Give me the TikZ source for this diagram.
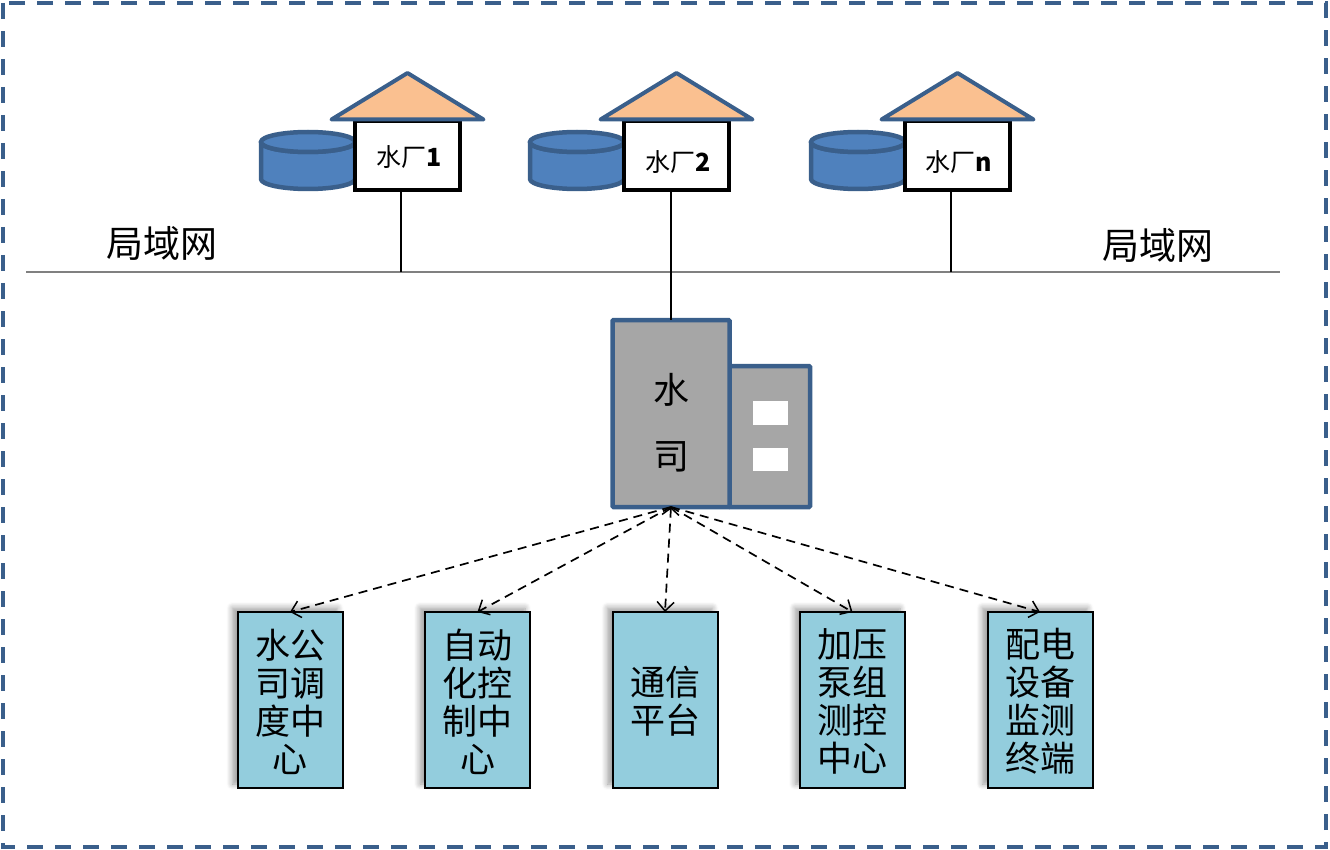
\documentclass[tikz,border=0pt]{standalone}
\usepackage{fontspec}
\setmainfont{Noto Sans CJK SC}
\usetikzlibrary{arrows.meta}
\usetikzlibrary{shadows.blur}
\definecolor{edgeblue}{HTML}{3A5F8B}
\definecolor{tankblue}{HTML}{4F81BD}
\definecolor{roofpeach}{HTML}{FAC090}
\definecolor{officegray}{HTML}{A6A6A6}
\definecolor{deptblue}{HTML}{93CDDD}
\tikzset{
	plantbox/.style={draw=black, line width=4, fill=white, minimum width=105, minimum height=69, inner sep=0, outer sep=0},
	plantlabel/.style={inner sep=0, font=\fontsize{25}{27}\selectfont},
	officebox/.style={draw=edgeblue, line width=4.5, fill=officegray, rounded corners=1, inner sep=0, outer sep=0},
	deptbox/.style={draw=black, line width=2, fill=deptblue, minimum width=105, minimum height=176, inner sep=0, outer sep=0, blur shadow={shadow xshift=-5pt, shadow yshift=4pt, shadow blur steps=8, shadow blur radius=6pt}},
	deptlabel/.style={inner sep=0, align=center, font=\fontsize{35}{38}\selectfont},
	lanlabel/.style={inner sep=0, font=\fontsize{37}{38}\selectfont},
	hub/.style={dash pattern=on 9pt off 6pt, line width=1.7, -{Straight Barb[length=9pt, width=17pt, line width=1.5pt]}},
	hubboth/.style={hub, {Straight Barb[length=7pt, width=17pt, line width=1.5pt]}-{Straight Barb[length=9pt, width=17pt, line width=1.5pt]}}
}
\newcommand{\plant}[5] % node name, x of box centre, x of tank centre, label, y of label
{
	% tank
	\draw[draw=edgeblue, line width=4.5, line join=round, fill=tankblue] (#3-47,142) arc[start angle=180, end angle=360, x radius=47pt, y radius=10pt] -- (#3+47,179) arc[start angle=360, end angle=180, x radius=47pt, y radius=10pt] -- cycle;
	\draw[draw=edgeblue, line width=4.5, fill=tankblue] (#3,142) ellipse [x radius=47pt, y radius=10pt];
	% box
	\node[plantbox] (#1) at (#2,155.5) {};
	\node[plantlabel] (#1text) at (#2+1.5,#5) {#4};
	% roof
	\draw[draw=edgeblue, line width=4, fill=roofpeach, line join=round] (#2-76,119.5) -- (#2,73) -- (#2+76,119.5) -- cycle;
}
\newcommand{\dept}[3] % node name, x of box centre, lines of text
{
	\node[deptbox] (#1) at (#2,700) {};
	\node[deptlabel] (#1text) at (#2,701.5) {#3};
}
\begin{document}
\begin{tikzpicture}[x=1pt, y=-1pt]
	\useasboundingbox (0,0) rectangle (1330,850);
	% outer frame
	\draw[draw=edgeblue, line width=4.5, dash pattern=on 16pt off 12pt] (3,3) rectangle (1326,847);

	% lan
	\coordinate (lanwest) at (26,272);
	\coordinate (laneast) at (1280,272);
	\coordinate (lan1) at (401,272);
	\coordinate (lan3) at (951,272);
	\draw[draw=gray, line width=1.8] (lanwest) -- (laneast);
	\node[lanlabel] (lanleft) at (162,243) {局域网};
	\node[lanlabel] (lanright) at (1158,245) {局域网};

	\plant{plant1}{407.5}{308}{水厂{\bfseries 1}}{157};
	\plant{plant2}{676.5}{577}{水厂{\bfseries 2}}{162};
	\plant{plant3}{957.5}{858}{水厂{\bfseries n}}{162};

	% office
	\node[officebox, minimum width=81, minimum height=141] (annex) at (769.5,436.5) {};
	\node[officebox, minimum width=117, minimum height=187] (office) at (671,413.5) {};
	\node[inner sep=0, align=center, font=\fontsize{36}{66}\selectfont] (officetext) at (671,423) {水\\司};
	\node[fill=white, minimum width=35, minimum height=24, inner sep=0] (window1) at (770.5,413) {};
	\node[fill=white, minimum width=35, minimum height=23, inner sep=0] (window2) at (770.5,459.5) {};

	\draw[line width=1.6] (plant1.south -| lan1) -- (lan1);
	\draw[line width=1.6] (plant2.south -| office.north) -- (office.north);
	\draw[line width=1.6] (plant3.south -| lan3) -- (lan3);

	% departments
	\dept{dept1}{290}{水公\\司调\\度中\\心};
	\dept{dept2}{477.5}{自动\\化控\\制中\\心};
	\dept{dept3}{665}{通信\\平台};
	\dept{dept4}{852.5}{加压\\泵组\\测控\\中心};
	\dept{dept5}{1040}{配电\\设备\\监测\\终端};

	\foreach \d in {1,2,4,5}
		\draw[hub] (office.south) -- (dept\d.north);
	\draw[hubboth] (office.south) -- (dept3.north);
\end{tikzpicture}
\end{document}
